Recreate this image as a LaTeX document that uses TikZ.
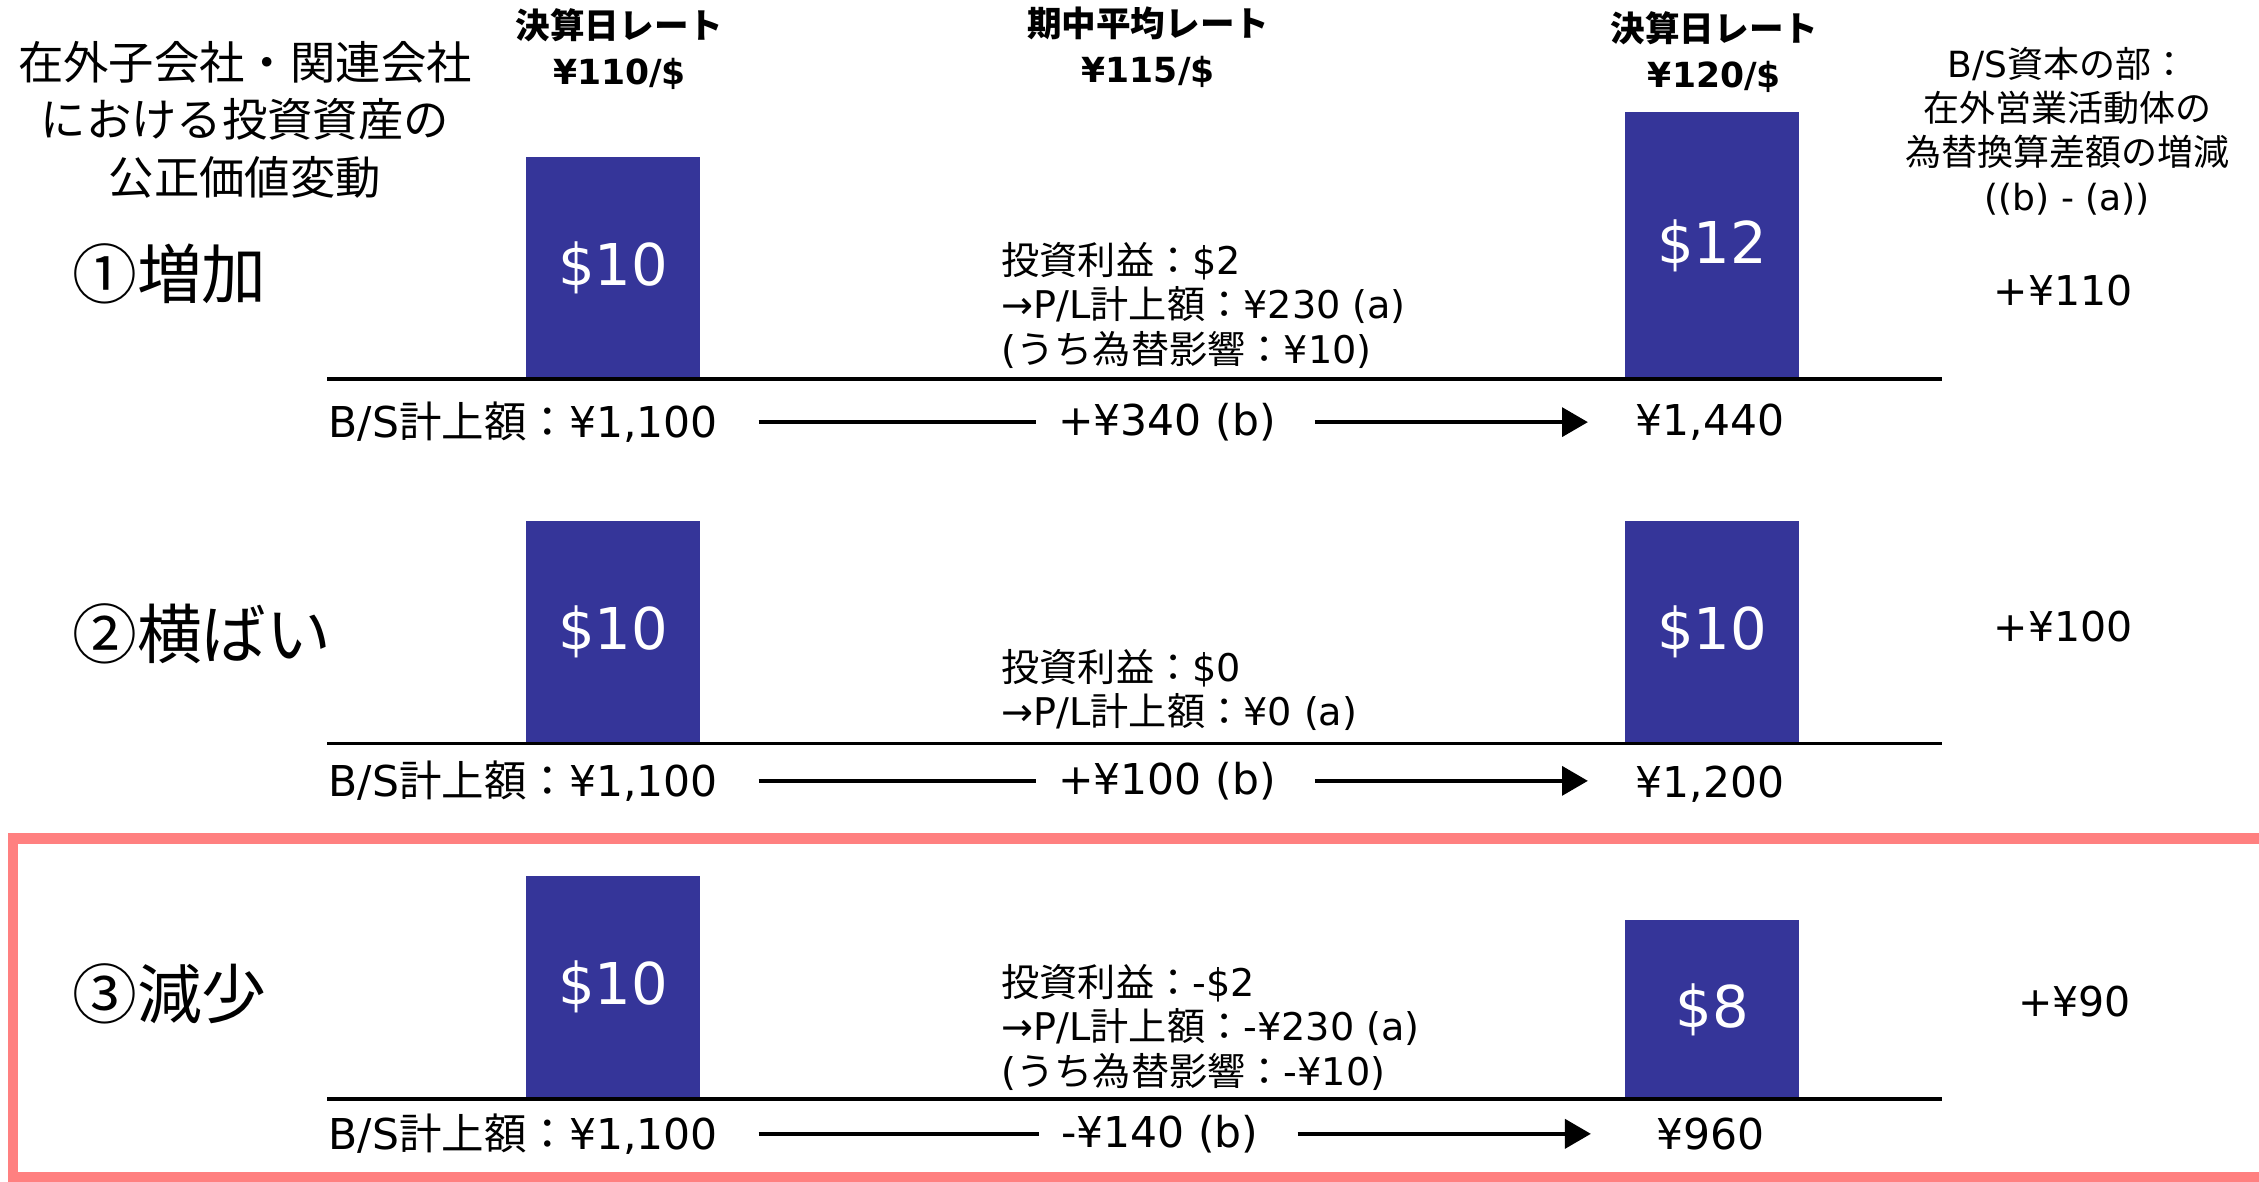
\documentclass[tikz,border=0pt]{standalone}
\usepackage{fontspec}
\setmainfont{DejaVu Sans}
\newfontfamily\jp{Noto Sans CJK JP}
\usetikzlibrary{arrows.meta}
\definecolor{barblue}{RGB}{53,53,153}
\definecolor{hilite}{RGB}{255,128,128}
\tikzset{
  bar/.style={draw=none,fill=barblue,text=white,minimum width=121pt,inner sep=0pt,anchor=south,font=\fontsize{40}{44}\selectfont},
  hdr/.style={align=center,inner sep=0pt,font=\bfseries\fontsize{24}{32}\selectfont},
  rowlab/.style={anchor=west,inner sep=0pt,font=\jp\fontsize{45}{48}\selectfont},
  mid/.style={anchor=west,align=left,inner sep=0pt,font=\fontsize{26.5}{31}\selectfont},
  bot/.style={inner sep=0pt,font=\fontsize{29.5}{33}\selectfont},
  val/.style={inner sep=0pt,font=\fontsize{28.5}{32}\selectfont},
  base/.style={line width=2.5pt},
  conn/.style={line width=3pt},
  connarrow/.style={line width=3pt,-{Triangle[length=18pt,width=20pt]}}
}
\begin{document}
\begin{tikzpicture}[x=1pt,y=-1pt]
\useasboundingbox (0,0) rectangle (1568,820);
\begin{scope}
\clip (0,0) rectangle (1568,820);
\draw[hilite,line width=7pt] (9,582) rectangle (1580,817);
\end{scope}

% title
\node[align=center,inner sep=0pt,font=\jp\fontsize{31.5}{40}\selectfont] (title) at (170,83) {在外子会社・関連会社\\における投資資産の\\公正価値変動};

% headers
\node[hdr] (h1) at (430,34) {{\jp 決算日レート}\\¥110/\$};
\node[hdr] (h2) at (797,33) {{\jp 期中平均レート}\\¥115/\$};
\node[hdr] (h3) at (1190,36) {{\jp 決算日レート}\\¥120/\$};
\node[align=center,inner sep=0pt,font=\fontsize{25}{30.7}\selectfont] (h4) at (1435,91) {B/S{\jp 資本の部：}\\{\jp 在外営業活動体の}\\{\jp 為替換算差額の増減}\\((b) - (a))};

% ---------- row 1
\node[rowlab] (r1) at (50,190) {①増加};
\node[bar,minimum height=154pt] (b11) at (425.5,263) {\$10};
\node[bar,minimum height=185pt] (b12) at (1188.5,263) {\$12};
\coordinate (l1s) at (227,263);
\coordinate (l1e) at (1348,263);
\draw[base] (l1s) -- (l1e);
\node[mid] (m1) at (695,212) {{\jp 投資利益：}\$2\\→P/L{\jp 計上額：}¥230 (a)\\({\jp うち為替影響：}¥10)};
\node[val] (v1) at (1432,202) {+¥110};
\node[bot,anchor=west] (bs1) at (228,293) {B/S{\jp 計上額：}¥1,100};
\node[bot] (d1) at (810,293) {+¥340 (b)};
\node[bot] (e1) at (1187,293) {¥1,440};
\draw[conn,shorten <=28pt,shorten >=15pt] (bs1.east) -- (d1.west);
\draw[connarrow,shorten <=27pt,shorten >=33pt] (d1.east) -- (e1.west);

% ---------- row 2
\node[rowlab] (r2) at (50,440) {②横ばい};
\node[bar,minimum height=154pt] (b21) at (425.5,516) {\$10};
\node[bar,minimum height=154pt] (b22) at (1188.5,516) {\$10};
\coordinate (l2s) at (227,516);
\coordinate (l2e) at (1348,516);
\draw[base] (l2s) -- (l2e);
\node[mid] (m2) at (695,479) {{\jp 投資利益：}\$0\\→P/L{\jp 計上額：}¥0 (a)};
\node[val] (v2) at (1432,435) {+¥100};
\node[bot,anchor=west] (bs2) at (228,542) {B/S{\jp 計上額：}¥1,100};
\node[bot] (d2) at (810,542) {+¥100 (b)};
\node[bot] (e2) at (1187,544) {¥1,200};
\draw[conn,shorten <=28pt,shorten >=15pt] (bs2.east) -- (d2.west);
\draw[connarrow,shorten <=27pt,shorten >=33pt] (d2.east) -- (e2.west |- d2.west);

% ---------- row 3
\node[rowlab] (r3) at (50,690) {③減少};
\node[bar,minimum height=155pt] (b31) at (425.5,763) {\$10};
\node[bar,minimum height=124pt] (b32) at (1188.5,763) {\$8};
\coordinate (l3s) at (227,763);
\coordinate (l3e) at (1348,763);
\draw[base] (l3s) -- (l3e);
\node[mid] (m3) at (695,713) {{\jp 投資利益：}-\$2\\→P/L{\jp 計上額：}-¥230 (a)\\({\jp うち為替影響：}-¥10)};
\node[val] (v3) at (1440,695) {+¥90};
\node[bot,anchor=west] (bs3) at (228,787) {B/S{\jp 計上額：}¥1,100};
\node[bot] (d3) at (805,787) {-¥140 (b)};
\node[bot] (e3) at (1187,787) {¥960};
\draw[conn,shorten <=28pt,shorten >=15pt] (bs3.east) -- (d3.west);
\draw[connarrow,shorten <=27pt,shorten >=45pt] (d3.east) -- (e3.west);
\end{tikzpicture}
\end{document}
